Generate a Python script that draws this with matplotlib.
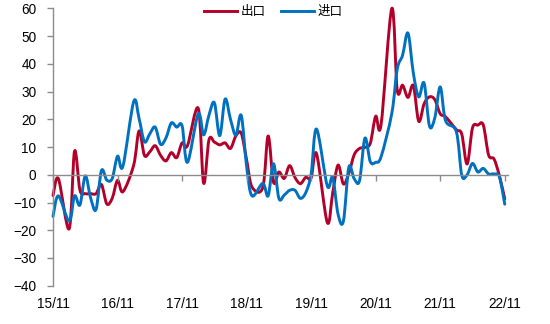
import numpy as np
import pandas as pd
import matplotlib
matplotlib.use('Agg')
import matplotlib.pyplot as plt
from matplotlib.path import Path
from matplotlib.patches import PathPatch
from matplotlib.lines import Line2D

plt.rcParams['font.family'] = ['Liberation Sans', 'Noto Sans CJK SC', 'DejaVu Sans']

nan = np.nan

# 月度数据 2015/11 - 2022/11，1月与2月合并公布，1月留空
months = pd.period_range('2015-11', '2022-11', freq='M')

export_yoy = [
    -7.5, -1.4,
    nan, -19.5, 8.5, -5.5, -6.8, -6.8, -6.8, -3.5, -10.5, -8.5, -2.0, -6.1,
    nan, 3.5, 15.8, 7.0, 8.3, 10.5, 7.0, 5.0, 8.0, 6.2, 11.5, 10.5,
    nan, 24.0, -3.0, 12.6, 11.8, 10.8, 11.5, 9.5, 14.0, 15.0, 5.4, -4.4,
    nan, -4.6, 14.0, -2.7, 1.0, -1.3, 3.3, -1.0, -3.2, -0.9, -1.1, 7.6,
    nan, -17.2, -6.6, 3.5, -3.3, 0.5, 7.2, 9.5, 9.9, 11.4, 21.1, 18.1,
    nan, 60.0, 30.6, 32.3, 27.9, 32.2, 19.3, 25.6, 28.1, 27.1, 22.0, 20.9,
    nan, 16.3, 14.7, 3.9, 16.9, 17.9, 18.0, 7.1, 5.7, -0.3, -8.7,
]

import_yoy = [
    -15.0, -7.6,
    nan, -16.7, -7.6, -10.9, -0.4, -8.4, -12.5, 1.5, -1.9, -1.4, 6.7, 3.1,
    nan, 26.4, 20.3, 11.9, 14.8, 17.2, 11.0, 13.3, 18.7, 17.2, 17.7, 4.5,
    nan, 22.0, 14.4, 21.5, 26.0, 14.1, 27.3, 20.0, 14.3, 21.4, 3.0, -7.6,
    nan, -3.1, -7.6, 4.0, -8.5, -7.3, -5.6, -5.6, -8.5, -6.4, 0.3, 16.5,
    nan, -4.0, -0.9, -14.2, -16.7, 2.7, -1.4, -2.1, 13.2, 4.7, 4.5, 6.5,
    nan, 22.2, 38.1, 43.1, 51.1, 36.7, 28.1, 33.1, 17.6, 20.6, 31.7, 19.5,
    nan, 15.5, -0.1, 0.0, 4.1, 1.0, 2.3, 0.3, 0.3, -0.7, -10.6,
]

tick_labels = ['15/11', '16/11', '17/11', '18/11', '19/11', '20/11', '21/11', '22/11']

RED = '#B3002A'
BLUE = '#0070C0'
AXIS_GRAY = '#8C8C8C'


def smooth_path(x, y):
    """平滑折线（三次贝塞尔），跳过空值并连接"""
    pts = [(xi, yi) for xi, yi in zip(x, y) if not np.isnan(yi)]
    verts = [pts[0]]
    codes = [Path.MOVETO]
    n = len(pts)
    for k in range(n - 1):
        p0 = pts[k - 1] if k > 0 else pts[k]
        p1 = pts[k]
        p2 = pts[k + 1]
        p3 = pts[k + 2] if k + 2 < n else pts[k + 1]
        c1 = (p1[0] + (p2[0] - p0[0]) / 6, p1[1] + (p2[1] - p0[1]) / 6)
        c2 = (p2[0] - (p3[0] - p1[0]) / 6, p2[1] - (p3[1] - p1[1]) / 6)
        verts += [c1, c2, p2]
        codes += [Path.CURVE4] * 3
    return Path(verts, codes)


x = np.arange(len(months))

fig = plt.figure(figsize=(5.5, 3.24), dpi=100)
ax = fig.add_axes([0.0964, 0.1182, 0.8272, 0.8558])

for vals, color in [(export_yoy, RED), (import_yoy, BLUE)]:
    patch = PathPatch(smooth_path(x, np.array(vals, dtype=float)),
                      facecolor='none', edgecolor=color, lw=2.1,
                      capstyle='round', joinstyle='round', clip_on=False)
    ax.add_patch(patch)

ax.set_xlim(0, 84.6)
ax.set_ylim(-40, 60)
ax.set_yticks(np.arange(-40, 61, 10))

# 横轴放在0处，刻度线向下，标签放在底部
year_ticks = x[months.month == 11]
ax.spines['bottom'].set_position(('data', 0))
ax.spines['bottom'].set_color(AXIS_GRAY)
ax.spines['bottom'].set_linewidth(1.0)
ax.spines['left'].set_color(AXIS_GRAY)
ax.spines['left'].set_linewidth(1.0)
ax.spines['top'].set_visible(False)
ax.spines['right'].set_visible(False)

ax.set_xticks(year_ticks)
ax.tick_params(axis='x', direction='out', length=4, width=1.0,
               color=AXIS_GRAY, labelbottom=False)
ax.tick_params(axis='y', direction='out', length=4, width=1.0,
               color=AXIS_GRAY, labelsize=9.8, pad=8)

sec = ax.secondary_xaxis(0)
sec.set_xticks(year_ticks)
sec.set_xticklabels(tick_labels)
sec.tick_params(length=0, labelsize=9.8, pad=8)
sec.spines['bottom'].set_visible(False)

handles = [Line2D([], [], color=RED, lw=2.1), Line2D([], [], color=BLUE, lw=2.1)]
fig.legend(handles, ['出口', '进口'], loc='center', bbox_to_anchor=(0.497, 0.964),
           ncol=2, frameon=False, handlelength=2.65, handletextpad=0.3,
           columnspacing=1.2, prop={'family': ['Noto Sans CJK SC'], 'size': 9})

fig.savefig('out.png', dpi=100)
